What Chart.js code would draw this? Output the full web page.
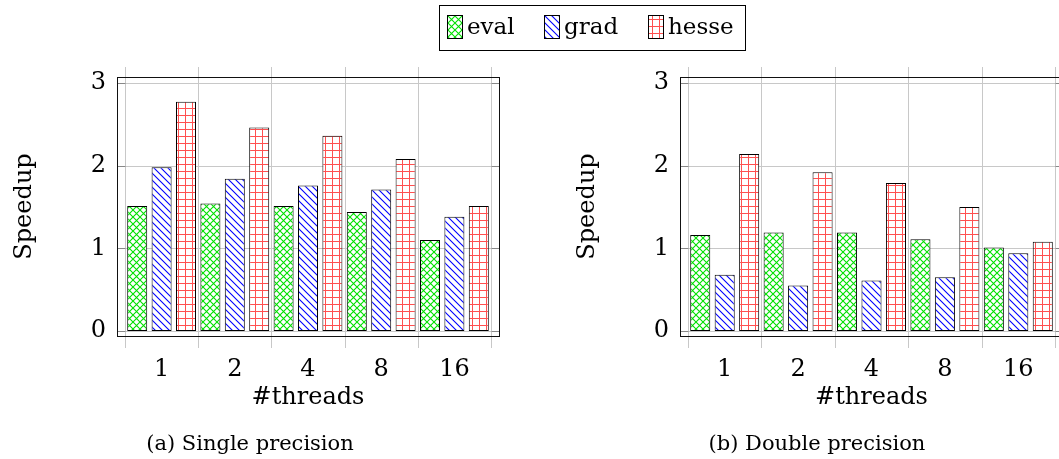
<!DOCTYPE html>
<html>
<head>
<meta charset="utf-8">
<script src="https://cdn.jsdelivr.net/npm/chart.js@4.4.0/dist/chart.umd.min.js"></script>
<style>
  body { margin: 0; background: #fff; }
  #wrap { position: relative; width: 1059px; height: 459px; overflow: hidden; font-family: "DejaVu Serif", serif; }
  canvas.plot { position: absolute; top: 0; }
  #legend { position: absolute; left: 439px; top: 5px; width: 305px; height: 44px; border: 1px solid #000; }
  .item { position: absolute; top: 0; height: 44px; line-height: 44px; font-size: 23px; }
  .item canvas { position: absolute; top: 9px; left: 0; border: 1px solid #000; }
  .item span { position: absolute; left: 20px; top: -2px; white-space: nowrap; }
  .caption { position: absolute; top: 431px; font-size: 21px; width: 300px; text-align: center; }
</style>
</head>
<body>
<div id="wrap">
  <canvas id="single" class="plot" width="530" height="459" style="left:0px"></canvas>
  <canvas id="double" class="plot" width="496" height="459" style="left:563px"></canvas>
  <div id="legend"></div>
  <div class="caption" style="left:100px">(a) Single precision</div>
  <div class="caption" style="left:667px">(b) Double precision</div>
</div>
<script>
const categories = ["1", "2", "4", "8", "16"];
const seriesNames = ["eval", "grad", "hesse"];

const singleEval = [1.51, 1.54, 1.51, 1.44, 1.10];
const singleGrad = [1.98, 1.84, 1.76, 1.71, 1.38];
const singleHesse = [2.77, 2.46, 2.36, 2.08, 1.51];

const doubleEval = [1.16, 1.19, 1.19, 1.11, 1.01];
const doubleGrad = [0.68, 0.55, 0.61, 0.65, 0.94];
const doubleHesse = [2.14, 1.92, 1.79, 1.50, 1.08];

const yTicks = [0, 1, 2, 3];

Chart.defaults.font.family = "DejaVu Serif";
Chart.defaults.color = "#000";

// fill patterns like pgfplots crosshatch / north west lines / grid
function makePattern(kind) {
  const s = 7;
  const c = document.createElement("canvas");
  c.width = s; c.height = s;
  const g = c.getContext("2d");
  g.fillStyle = "#fff";
  g.fillRect(0, 0, s, s);
  g.lineWidth = 1.1;
  g.beginPath();
  if (kind === "eval") {
    g.strokeStyle = "#00e000";
    g.moveTo(-1, -1); g.lineTo(s + 1, s + 1);
    g.moveTo(s + 1, -1); g.lineTo(-1, s + 1);
  } else if (kind === "grad") {
    g.strokeStyle = "#0000ff";
    g.moveTo(-1, -1); g.lineTo(s + 1, s + 1);
    g.moveTo(-1, s - 1); g.lineTo(1, s + 1);
    g.moveTo(s - 1, -1); g.lineTo(s + 1, 1);
  } else {
    g.strokeStyle = "rgb(255,80,80)";
    g.lineWidth = 1;
    g.moveTo(3.5, 0); g.lineTo(3.5, s);
    g.moveTo(0, 3.5); g.lineTo(s, 3.5);
  }
  g.stroke();
  return g.createPattern(c, "repeat");
}

const patterns = {
  eval: makePattern("eval"),
  grad: makePattern("grad"),
  hesse: makePattern("hesse")
};

const framePlugin = {
  id: "frame",
  beforeDatasetsDraw(chart) {
    const { ctx, chartArea: a, scales: { x, y } } = chart;
    const L = a.left - 7, R = a.right + 8;
    ctx.save();
    ctx.strokeStyle = "#c8c8c8";
    ctx.lineWidth = 1;
    ctx.beginPath();
    for (let i = 0; i <= categories.length; i++) {
      const px = Math.round(x.getPixelForValue(i - 0.5)) + 0.5;
      ctx.moveTo(px, a.top - 10);
      ctx.lineTo(px, a.bottom + 12);
    }
    yTicks.forEach(v => {
      const py = Math.round(y.getPixelForValue(v)) + 0.5;
      ctx.moveTo(L, py);
      ctx.lineTo(R, py);
    });
    ctx.stroke();
    ctx.restore();
  },
  afterDatasetsDraw(chart) {
    const { ctx, chartArea: a, scales: { y } } = chart;
    const L = a.left - 7.5, R = a.right + 8.5;
    ctx.save();
    ctx.strokeStyle = "#888";
    ctx.lineWidth = 1;
    ctx.beginPath();
    yTicks.forEach(v => {
      const py = Math.round(y.getPixelForValue(v)) + 0.5;
      ctx.moveTo(L, py); ctx.lineTo(L + 8, py);
      ctx.moveTo(R, py); ctx.lineTo(R - 8, py);
    });
    ctx.stroke();
    ctx.strokeStyle = "#111";
    ctx.strokeRect(L, Math.round(a.top) + 0.5, R - L, Math.round(a.bottom - a.top));
    ctx.restore();
  }
};

function makeChart(id, evalData, gradData, hesseData, rightPad) {
  const dataSets = [evalData, gradData, hesseData];
  return new Chart(document.getElementById(id), {
    type: "bar",
    data: {
      labels: categories,
      datasets: seriesNames.map((name, i) => ({
        label: name,
        data: dataSets[i],
        backgroundColor: patterns[name],
        borderColor: "#000",
        borderWidth: 1,
        borderSkipped: false,
        categoryPercentage: 1.0,
        barPercentage: 0.82
      }))
    },
    options: {
      responsive: false,
      animation: false,
      devicePixelRatio: 1,
      layout: { padding: { top: 77, right: rightPad, bottom: 47, left: 0 } },
      plugins: { legend: { display: false }, tooltip: { enabled: false } },
      scales: {
        x: {
          offset: true,
          grid: { display: false, drawTicks: false, tickLength: 0 },
          border: { display: false },
          ticks: { font: { size: 24 }, padding: 19, maxRotation: 0 },
          title: { display: true, text: "#threads", font: { size: 24 }, padding: 0 },
          afterFit(scale) { scale.height = 76; }
        },
        y: {
          min: -0.06,
          max: 3.07,
          grid: { display: false, drawTicks: false, tickLength: 0 },
          border: { display: false },
          afterBuildTicks(scale) { scale.ticks = yTicks.map(v => ({ value: v })); },
          ticks: { font: { size: 24 }, padding: 19 },
          title: { display: true, text: "Speedup", font: { size: 24 }, padding: 10 },
          afterFit(scale) { scale.width = 125; }
        }
      }
    },
    plugins: [framePlugin]
  });
}

makeChart("single", singleEval, singleGrad, singleHesse, 39);
makeChart("double", doubleEval, doubleGrad, doubleHesse, 4);

// legend
const legend = document.getElementById("legend");
const legendX = [7, 104, 208];
seriesNames.forEach((name, i) => {
  const item = document.createElement("div");
  item.className = "item";
  item.style.left = legendX[i] + "px";
  const sw = document.createElement("canvas");
  sw.width = 14; sw.height = 22;
  const g = sw.getContext("2d");
  g.fillStyle = patterns[name];
  g.fillRect(0, 0, 14, 22);
  const label = document.createElement("span");
  label.textContent = name;
  item.appendChild(sw);
  item.appendChild(label);
  legend.appendChild(item);
});
</script>
</body>
</html>
